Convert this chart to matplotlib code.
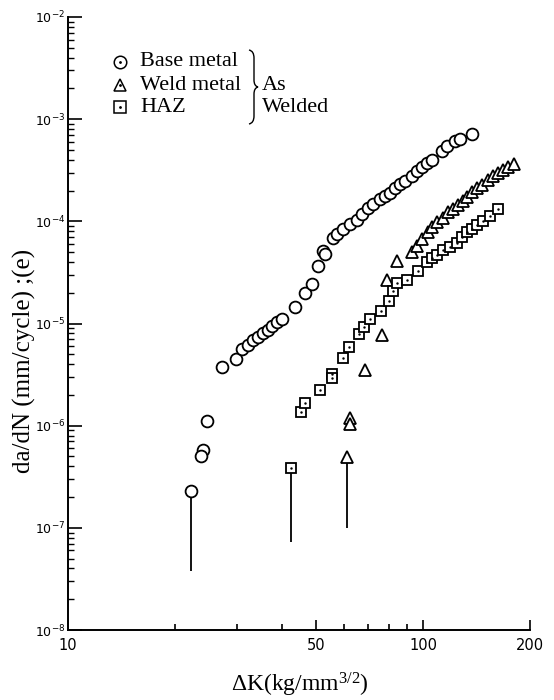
import matplotlib
matplotlib.use("Agg")
import matplotlib.pyplot as plt
from matplotlib.path import Path
from matplotlib.patches import PathPatch
from matplotlib.ticker import FixedLocator, NullFormatter

# da/dN vs delta K
base_dk = [22.2, 24.0, 23.7, 24.6, 27.2, 29.7, 30.9, 32.1, 33.2, 34.3, 35.4, 36.6,
           37.5, 38.8, 40.1, 43.6, 46.5, 48.7, 50.6, 52.3, 53.0, 55.8, 57.3, 59.5,
           62.3, 65.2, 67.3, 70.0, 72.3, 75.6, 78.2, 80.7, 83.4, 86.2, 89.0, 93.1,
           96.2, 99.4, 102.6, 106.0, 113.1, 116.8, 123.1, 127.1, 137.4]
base_dadn = [2.29e-7, 5.78e-7, 5.05e-7, 1.11e-6, 3.75e-6, 4.49e-6, 5.63e-6, 6.16e-6,
             6.90e-6, 7.38e-6, 8.07e-6, 8.64e-6, 9.45e-6, 1.03e-5, 1.11e-5, 1.45e-5,
             1.99e-5, 2.44e-5, 3.66e-5, 5.12e-5, 4.79e-5, 6.87e-5, 7.52e-5, 8.41e-5,
             9.42e-5, 1.03e-4, 1.18e-4, 1.35e-4, 1.48e-4, 1.65e-4, 1.77e-4, 1.89e-4,
             2.12e-4, 2.32e-4, 2.48e-4, 2.78e-4, 3.11e-4, 3.40e-4, 3.72e-4, 3.99e-4,
             4.88e-4, 5.46e-4, 6.11e-4, 6.39e-4, 7.16e-4]

weld_dk = [61.1, 62.3, 62.3, 68.6, 76.6, 79.2, 84.5, 93.1, 96.2, 99.4, 103.3, 106.0,
           109.5, 113.8, 117.6, 121.5, 125.5, 129.6, 133.0, 137.4, 141.9, 146.6,
           152.5, 157.5, 162.7, 168.0, 173.5, 180.4]
weld_dadn = [4.94e-7, 1.19e-6, 1.04e-6, 3.51e-6, 7.72e-6, 2.67e-5, 4.09e-5, 5.01e-5,
             5.74e-5, 6.71e-5, 7.86e-5, 8.80e-5, 9.85e-5, 1.08e-4, 1.23e-4, 1.32e-4,
             1.45e-4, 1.58e-4, 1.73e-4, 1.94e-4, 2.12e-4, 2.27e-4, 2.54e-4, 2.78e-4,
             2.97e-4, 3.18e-4, 3.40e-4, 3.64e-4]

haz_dk = [42.5, 45.3, 46.5, 51.3, 55.4, 55.4, 59.5, 61.9, 66.0, 68.2, 70.9, 76.1,
          80.2, 82.3, 84.5, 90.1, 96.8, 102.6, 106.0, 109.5, 113.8, 119.2, 124.7,
          128.8, 133.0, 137.4, 141.9, 147.6, 154.4, 162.7]
haz_dadn = [3.85e-7, 1.36e-6, 1.67e-6, 2.23e-6, 3.20e-6, 2.93e-6, 4.60e-6, 5.89e-6,
            7.89e-6, 9.24e-6, 1.11e-5, 1.33e-5, 1.66e-5, 2.08e-5, 2.49e-5, 2.67e-5,
            3.27e-5, 4.00e-5, 4.38e-5, 4.68e-5, 5.24e-5, 5.61e-5, 6.14e-5, 7.03e-5,
            7.86e-5, 8.41e-5, 9.21e-5, 1.01e-4, 1.13e-4, 1.32e-4]

# lines hanging below the first (lowest) point of each series
drop_dk = [22.2, 42.5, 61.1]
drop_top = [2.29e-7, 3.85e-7, 4.94e-7]
drop_bottom = [3.78e-8, 7.27e-8, 9.97e-8]

legend_labels = ["Base metal", "Weld metal", "HAZ"]
xtick_vals = [10, 50, 100, 200]
xtick_minor = [20, 30, 40, 60, 70, 80, 90]
ytick_vals = [1e-8, 1e-7, 1e-6, 1e-5, 1e-4, 1e-3, 1e-2]
ytick_labels = ["10$^{-8}$", "10$^{-7}$", "10$^{-6}$", "10$^{-5}$", "10$^{-4}$",
                "10$^{-3}$", "10$^{-2}$"]

serif = "Liberation Serif"
W, H = 554, 700
fig = plt.figure(figsize=(W / 100, H / 100), dpi=100)
ax = fig.add_axes([68 / W, 1 - 630 / H, (530 - 68) / W, (630 - 17) / H])
ax.set_xscale("log")
ax.set_yscale("log")
ax.set_xlim(10, 200)
ax.set_ylim(1e-8, 1e-2)

mk = dict(linestyle="none", markerfacecolor="white", markeredgecolor="black",
          markeredgewidth=1.3, zorder=3)
ax.vlines(drop_dk, drop_bottom, drop_top, color="black", lw=1.3, zorder=2)
ax.plot(base_dk, base_dadn, marker="o", markersize=8.5, **mk)
ax.plot(weld_dk, weld_dadn, marker="^", markersize=8.5, **mk)
ax.plot(haz_dk, haz_dadn, marker="s", markersize=7.5, **mk)
# small centre dots on the squares
ax.plot(haz_dk, haz_dadn, linestyle="none", marker=".", markersize=1.5,
        color="black", zorder=4)

for side in ["top", "right"]:
    ax.spines[side].set_visible(False)
for side in ["left", "bottom"]:
    ax.spines[side].set_linewidth(1.4)

ax.xaxis.set_major_locator(FixedLocator(xtick_vals))
ax.xaxis.set_minor_locator(FixedLocator(xtick_minor))
ax.xaxis.set_minor_formatter(NullFormatter())
ax.set_xticklabels([str(v) for v in xtick_vals])
ax.set_yticks(ytick_vals)
ax.set_yticklabels(ytick_labels)
ax.tick_params(axis="x", which="major", direction="in", length=7, width=1.2,
               labelsize=10.5, pad=6)
ax.tick_params(axis="x", which="minor", direction="in", length=4, width=1.2)
ax.tick_params(axis="y", which="major", direction="in", length=10, width=1.2,
               labelsize=9, pad=2)
ax.tick_params(axis="y", which="minor", direction="in", length=4, width=1.0)

fig.text(24 / W, 1 - 361 / H, "da/dN (mm/cycle) ;(e)", family=serif, fontsize=18,
         rotation=90, ha="center", va="center")
fig.text(300 / W, 1 - 685 / H, r"ΔK(kg/mm$\mathregular{^{3/2}}$)", family=serif,
         fontsize=17, ha="center", va="center")

# hand-made legend in the upper left
leg_y = [62, 85, 107]
leg_mk = ["o", "^", "s"]
for yy, m, lab in zip(leg_y, leg_mk, legend_labels):
    fig.lines.append(plt.Line2D([120 / W], [1 - yy / H], transform=fig.transFigure,
                                marker=m, markersize=9 if m != "s" else 8,
                                markerfacecolor="white", markeredgecolor="black",
                                markeredgewidth=1.1))
    fig.lines.append(plt.Line2D([120 / W], [1 - yy / H], transform=fig.transFigure,
                                marker=".", markersize=2, color="black"))
    fig.text(140 / W, 1 - yy / H, lab, family=serif, fontsize=16, va="center")

# curly brace
pts = [(249, 50), (254, 51), (254, 58), (254, 80), (254, 86), (258, 87),
       (254, 88), (254, 94), (254, 116), (254, 123), (249, 124)]
verts = [(x / W, 1 - y / H) for x, y in pts]
codes = [Path.MOVETO, Path.CURVE3, Path.CURVE3, Path.LINETO, Path.CURVE3, Path.CURVE3,
         Path.CURVE3, Path.CURVE3, Path.LINETO, Path.CURVE3, Path.CURVE3]
fig.patches.append(PathPatch(Path(verts, codes), transform=fig.transFigure,
                             fill=False, lw=1.0, color="black"))
fig.text(262 / W, 1 - 86 / H, "As", family=serif, fontsize=16, va="center")
fig.text(262 / W, 1 - 108 / H, "Welded", family=serif, fontsize=16, va="center")

fig.savefig("out.png", dpi=100)
